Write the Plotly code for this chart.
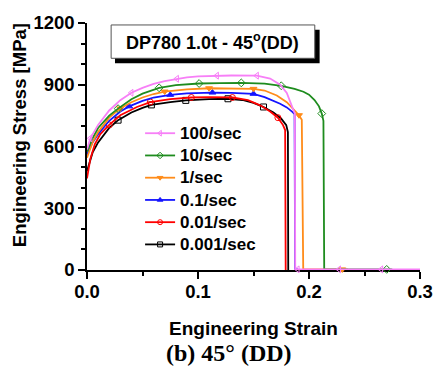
import plotly.graph_objects as go
import numpy as np

# ---------------- data ----------------
series_names = ["100/sec", "10/sec", "1/sec", "0.1/sec", "0.01/sec", "0.001/sec"]

strain_100 = [0, 0.003, 0.01, 0.02, 0.03, 0.04, 0.05, 0.06, 0.07, 0.081, 0.09, 0.1, 0.117, 0.13, 0.153,
              0.165, 0.174, 0.18, 0.185, 0.1872, 0.1876, 0.1897, 0.2, 0.227, 0.265, 0.3]
stress_100 = [585, 640, 705, 775, 825, 861, 885, 904, 918, 929, 936, 941, 944, 945, 944,
              930, 900, 860, 790, 760, 3, 3, 3, 3, 3, 3]
mk_100 = [0.003, 0.04, 0.081, 0.117, 0.153, 0.1897, 0.227, 0.265]

strain_10 = [0, 0.005, 0.01, 0.02, 0.028, 0.04, 0.05, 0.065, 0.08, 0.101, 0.12, 0.139, 0.16, 0.175,
             0.187, 0.195, 0.2, 0.205, 0.209, 0.2115, 0.213, 0.2137, 0.25, 0.27, 0.275]
stress_10 = [575, 640, 690, 750, 784, 830, 857, 885, 898, 906, 908, 909, 905, 895,
             880, 866, 852, 826, 795, 760, 725, 3, 3, 3, 3]
mk_10 = [0.028, 0.065, 0.101, 0.139, 0.175, 0.2115, 0.27]

strain_1 = [0, 0.005, 0.01, 0.02, 0.03, 0.04, 0.05, 0.06, 0.07, 0.09, 0.11, 0.13, 0.15, 0.16, 0.171,
            0.18, 0.185, 0.191, 0.1935, 0.1948, 0.2, 0.23, 0.235]
stress_1 = [545, 620, 670, 740, 785, 815, 838, 855, 867, 878, 883, 883, 880, 872, 848,
            815, 784, 752, 730, 3, 3, 3, 3]
mk_1 = [0.03, 0.07, 0.11, 0.15, 0.191, 0.23]

strain_01 = [0, 0.005, 0.01, 0.02, 0.03, 0.038, 0.05, 0.06, 0.075, 0.09, 0.113, 0.13, 0.15, 0.16,
             0.174, 0.18, 0.185, 0.187, 0.1875, 0.19]
stress_01 = [560, 620, 660, 725, 770, 795, 822, 838, 851, 858, 862, 861, 856, 840,
             808, 790, 768, 758, 3, 3]
mk_01 = [0.038, 0.075, 0.113, 0.15]

strain_001 = [0, 0.003, 0.007, 0.012, 0.02, 0.03, 0.045, 0.057, 0.075, 0.094, 0.11, 0.131, 0.145,
              0.156, 0.165, 0.172, 0.1766, 0.1785, 0.179]
stress_001 = [445, 540, 610, 660, 705, 752, 792, 816, 830, 838, 840, 838, 825,
              800, 770, 740, 704, 680, 0]
mk_001 = [0.02, 0.057, 0.094, 0.131, 0.172]

strain_0001 = [0, 0.005, 0.01, 0.02, 0.028, 0.04, 0.05, 0.058, 0.075, 0.089, 0.11, 0.127, 0.14,
               0.15, 0.159, 0.168, 0.175, 0.1795, 0.181, 0.1813]
stress_0001 = [480, 570, 620, 690, 728, 765, 788, 802, 816, 824, 830, 832, 826,
               812, 792, 765, 735, 704, 670, 0]
mk_0001 = [0.028, 0.058, 0.089, 0.127, 0.159]

x_ticks = [0.0, 0.1, 0.2, 0.3]
x_minor = [0.05, 0.15, 0.25]
y_ticks = [0, 300, 600, 900, 1200]
y_minor = [100, 200, 400, 500, 700, 800, 1000, 1100]

# ---------------- styles ----------------
colors = ["#F77FF7", "#1E8C1E", "#FF8C1A", "#1414FF", "#FF0000", "#000000"]
symbols = ["triangle-left-open", "diamond-open", "triangle-down", "triangle-up", "circle-open", "square-open"]

data = [
    (strain_100, stress_100, mk_100),
    (strain_10, stress_10, mk_10),
    (strain_1, stress_1, mk_1),
    (strain_01, stress_01, mk_01),
    (strain_001, stress_001, mk_001),
    (strain_0001, stress_0001, mk_0001),
]

FONT = "Arial, Liberation Sans, sans-serif"

fig = go.Figure()

for i in reversed(range(len(data))):
    sx, sy, mk = data[i]
    sx = np.array(sx); sy = np.array(sy)
    fig.add_trace(go.Scatter(x=sx, y=sy, mode="lines", line=dict(color=colors[i], width=1.8),
                             showlegend=False, hoverinfo="skip"))
    idx = [int(np.argmin(np.abs(sx - m))) for m in mk]
    fig.add_trace(go.Scatter(x=sx[idx], y=sy[idx], mode="markers",
                             marker=dict(symbol=symbols[i], size=6, color=colors[i],
                                         line=dict(color=colors[i], width=1)),
                             showlegend=False, hoverinfo="skip", cliponaxis=False))

# legend entries
for i, name in enumerate(series_names):
    fig.add_trace(go.Scatter(x=[None], y=[None], mode="lines+markers",
                             name=f'<span style="font-size:17px">{name}</span>',
                             line=dict(color=colors[i], width=1.8),
                             marker=dict(symbol=symbols[i], size=5, color=colors[i],
                                         line=dict(color=colors[i], width=1))))

L, T, W, H = 87, 18, 345, 252


def px(xp):
    return (xp - L) / W


def py(yp):
    return 1 - (yp - T) / H


shapes = [
    dict(type="rect", xref="paper", yref="paper", x0=px(116), x1=px(328), y0=py(59), y1=py(25),
         fillcolor="black", line=dict(width=0)),
    dict(type="rect", xref="paper", yref="paper", x0=px(112), x1=px(323), y0=py(54), y1=py(20),
         fillcolor="white", line=dict(color="#555555", width=1)),
]

annotations = [
    dict(text="DP780 1.0t - 45<sup>o</sup>(DD)", xref="paper", yref="paper",
         x=px(217), y=py(37), xanchor="center", yanchor="middle", showarrow=False,
         font=dict(family=FONT, size=18, color="black", weight="bold")),
    dict(text="Engineering Strain", xref="paper", yref="paper",
         x=px(259), y=py(330), xanchor="center", yanchor="middle", showarrow=False,
         font=dict(family=FONT, size=19, color="black", weight="bold")),
    dict(text="Engineering Stress [MPa]", xref="paper", yref="paper",
         x=px(17), y=py(132), xanchor="center", yanchor="middle", showarrow=False, textangle=-90,
         font=dict(family=FONT, size=18.5, color="black", weight="bold")),
    dict(text="(b) 45° (DD)", xref="paper", yref="paper",
         x=px(234), y=py(355), xanchor="center", yanchor="middle", showarrow=False,
         font=dict(family="Liberation Serif, Times New Roman, serif", size=24, color="black",
                   weight="bold")),
]

fig.update_layout(
    width=445, height=377,
    margin=dict(l=L, r=445 - L - W, t=T, b=377 - T - H),
    paper_bgcolor="white", plot_bgcolor="white",
    shapes=shapes, annotations=annotations,
    legend=dict(x=px(142), y=py(114), xanchor="left", yanchor="top",
                bgcolor="rgba(0,0,0,0)", borderwidth=0,
                font=dict(family=FONT, size=14.8, color="black", weight="bold"),
                itemwidth=30, tracegroupgap=0),
    font=dict(family=FONT, color="black"),
)

fig.update_xaxes(range=[0, 0.3], tickvals=x_ticks, ticktext=[f"{v:.1f}" for v in x_ticks],
                 showgrid=False, zeroline=False, showline=True, linecolor="black", linewidth=1.5,
                 ticks="outside", ticklen=7, tickwidth=1.5, tickcolor="black",
                 tickfont=dict(family=FONT, size=18.5, color="black", weight="bold"),
                 ticklabelstandoff=-3,
                 minor=dict(tickvals=x_minor, ticks="outside", ticklen=4,
                            tickwidth=1.5, tickcolor="black"),
                 layer="below traces")
fig.update_yaxes(range=[0, 1200], tickvals=y_ticks, ticktext=[str(v) for v in y_ticks],
                 showgrid=False, zeroline=False, showline=True, linecolor="black", linewidth=1.5,
                 ticks="outside", ticklen=7, tickwidth=1.5, tickcolor="black",
                 tickfont=dict(family=FONT, size=18.5, color="black", weight="bold"),
                 minor=dict(tickvals=y_minor, ticks="outside",
                            ticklen=4, tickwidth=1.5, tickcolor="black"),
                 layer="below traces")

fig.write_html("out.html")
